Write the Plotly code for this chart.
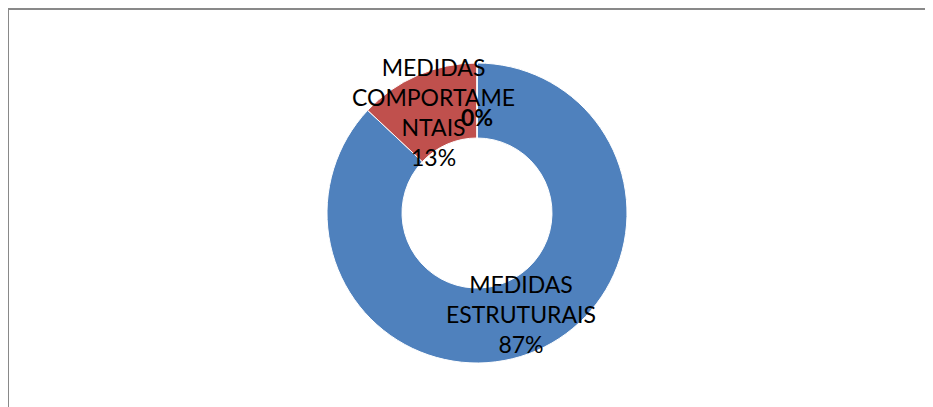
import math
import plotly.graph_objects as go

# Data
categories = ["MEDIDAS ESTRUTURAIS", "MEDIDAS COMPORTAMENTAIS", ""]
values = [87, 13, 0]
label_texts = ["MEDIDAS<br>ESTRUTURAIS<br>87%", "MEDIDAS<br>COMPORTAME<br>NTAIS<br>13%", "<b>0%</b>"]
colors = ["#4F81BD", "#C0504D", "#9BBB59"]

# the page body adds an 8px offset, so the figure is 925x399
W, H = 925, 399
cx, cy, R = 469, 205, 150  # pixel geometry of the donut (figure coords)
hole = 0.5
label_r = [110, 110, 96]

fig = go.Figure()
fig.add_trace(go.Pie(
    labels=categories,
    values=values,
    hole=hole,
    sort=False,
    direction="clockwise",
    rotation=0,
    marker=dict(colors=colors, line=dict(color="white", width=1)),
    textinfo="none",
    hoverinfo="label+percent",
    showlegend=False,
    domain=dict(x=[(cx - R) / W, (cx + R) / W], y=[(H - cy - R) / H, (H - cy + R) / H]),
))

# labels placed at the middle angle of each slice
total = sum(values)
cum = 0
annotations = []
for v, t, lr in zip(values, label_texts, label_r):
    mid = (cum + v / 2) / total * 2 * math.pi
    cum += v
    px = cx + lr * math.sin(mid)
    py = cy - lr * math.cos(mid)
    annotations.append(dict(
        x=px / W, y=1 - py / H, xref="paper", yref="paper",
        text=t, showarrow=False, xanchor="center", yanchor="middle",
        font=dict(family="Lato, Carlito, Calibri, sans-serif", size=23, color="black"),
        align="center",
    ))

shapes = [
    dict(type="line", xref="paper", yref="paper", x0=0, x1=1.0, y0=1 - 1 / H, y1=1 - 1 / H,
         line=dict(color="#898989", width=2)),
    dict(type="line", xref="paper", yref="paper", x0=0, x1=0, y0=0, y1=1 - 0.5 / H,
         line=dict(color="#898989", width=2)),
]

fig.update_layout(
    width=W, height=H,
    margin=dict(l=0, r=0, t=0, b=0),
    paper_bgcolor="white", plot_bgcolor="white",
    annotations=annotations,
    shapes=shapes,
)

fig.write_html("out.html")
